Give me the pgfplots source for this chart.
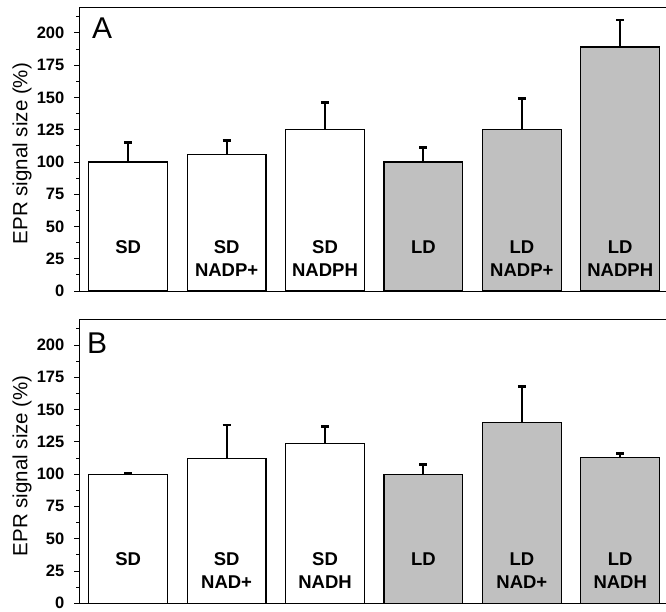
\documentclass[border=0pt]{standalone}
\usepackage{fontspec}
\setmainfont{Liberation Sans}
\usepackage{pgfplots}
\pgfplotsset{compat=1.18}
\usepackage{pgfplotstable}

\pgfplotstableread{
x y e
0 100 15
1 106 10.5
2 125 21
}\dataASD
\pgfplotstableread{
x y e
3 100 11
4 125 24
5 189 21
}\dataALD
\pgfplotstableread{
x y e
0 100 1
1 112 26
2 124 13
}\dataBSD
\pgfplotstableread{
x y e
3 100 7.5
4 140 28
5 113 3
}\dataBLD

\definecolor{bargray}{RGB}{192,192,192}

\tikzset{lab/.style={font=\fontsize{18.5}{22}\selectfont\bfseries, inner sep=0pt, anchor=base}}

\pgfplotsset{
  panel/.style={
    scale only axis, width=587pt, height=284pt,
    xmin=-0.5, xmax=5.465, ymin=0, ymax=220,
    axis x line*=box, axis y line*=left,
    xtick=\empty, ytick={0,25,...,200}, minor ytick={12.5,37.5,...,212.5},
    tick align=outside, ytick pos=left,
    major tick length=5pt, minor tick length=3pt,
    every tick/.style={black, line width=0.8pt},
    axis line style={line width=0.8pt, black},
    /pgf/number format/assume math mode=true,
    yticklabel style={font=\fontsize{16.5}{19}\selectfont\bfseries, inner sep=1pt, xshift=-8.5pt},
    ylabel={EPR signal size (\%)},
    ylabel style={font=\fontsize{20.5}{24}\selectfont, at={(axis description cs:-0.088,0.484)}, anchor=base},
  },
  sdbar/.style={ybar, bar width=0.8, bar shift=0pt, fill=white, draw=black, line width=1.2pt,
    error bars/.cd, y dir=plus, y explicit,
    error bar style={line width=2pt, black},
    error mark options={rotate=90, mark size=4pt, line width=2.5pt, black}},
  ldbar/.style={ybar, bar width=0.8, bar shift=0pt, fill=bargray, draw=black, line width=1.2pt,
    error bars/.cd, y dir=plus, y explicit,
    error bar style={line width=2pt, black},
    error mark options={rotate=90, mark size=4pt, line width=2.5pt, black}},
}

\begin{document}
\begin{tikzpicture}
\begin{axis}[panel, at={(79pt,320pt)}, anchor=south west]
\addplot[sdbar] table[x=x,y=y,y error=e]{\dataASD};
\addplot[ldbar] table[x=x,y=y,y error=e]{\dataALD};
\node[lab] at (axis cs:0,29.2) {SD};
\node[lab] at (axis cs:1,29.2) {SD};
\node[lab] at (axis cs:1,11.6) {NADP+};
\node[lab] at (axis cs:2,29.2) {SD};
\node[lab] at (axis cs:2,11.6) {NADPH};
\node[lab] at (axis cs:3,29.2) {LD};
\node[lab] at (axis cs:4,29.2) {LD};
\node[lab] at (axis cs:4,11.6) {NADP+};
\node[lab] at (axis cs:5,29.2) {LD};
\node[lab] at (axis cs:5,11.6) {NADPH};
\node[font=\fontsize{30}{34}\selectfont, inner sep=0pt, anchor=north west] at (rel axis cs:0,1) [xshift=13pt, yshift=-11pt] {A};
\end{axis}
\begin{axis}[panel, at={(79pt,7.8pt)}, anchor=south west]
\addplot[sdbar] table[x=x,y=y,y error=e]{\dataBSD};
\addplot[ldbar] table[x=x,y=y,y error=e]{\dataBLD};
\node[lab] at (axis cs:0,29.2) {SD};
\node[lab] at (axis cs:1,29.2) {SD};
\node[lab] at (axis cs:1,11.6) {NAD+};
\node[lab] at (axis cs:2,29.2) {SD};
\node[lab] at (axis cs:2,11.6) {NADH};
\node[lab] at (axis cs:3,29.2) {LD};
\node[lab] at (axis cs:4,29.2) {LD};
\node[lab] at (axis cs:4,11.6) {NAD+};
\node[lab] at (axis cs:5,29.2) {LD};
\node[lab] at (axis cs:5,11.6) {NADH};
\node[font=\fontsize{30}{34}\selectfont, inner sep=0pt, anchor=north west] at (rel axis cs:0,1) [xshift=8pt, yshift=-13pt] {B};
\end{axis}
\pgfresetboundingbox
\path (0pt,0pt) rectangle (666pt,611pt);
\end{tikzpicture}
\end{document}
